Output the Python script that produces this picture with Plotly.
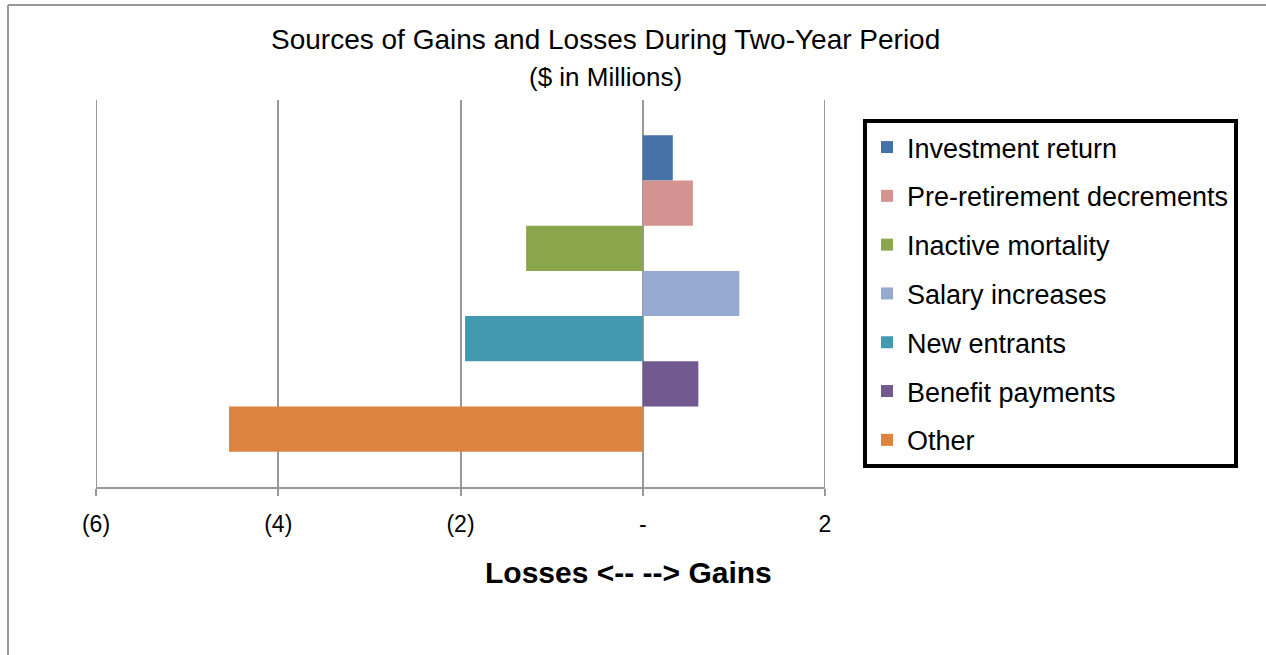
import plotly.graph_objects as go

series = ["Investment return", "Pre-retirement decrements", "Inactive mortality",
          "Salary increases", "New entrants", "Benefit payments", "Other"]
values = [0.33, 0.55, -1.28, 1.06, -1.95, 0.61, -4.54]
colors = ["#4672A8", "#D39391", "#8BA74E", "#95A9D1", "#4299B0", "#71588F", "#DC843F"]
category = ["Sources"]
tick_vals = [-6, -4, -2, 0, 2]
tick_text = ["(6)", "(4)", "(2)", "-", "2"]
x_range = [-6, 2]

FONT = "Liberation Sans"
GRID = "#999999"

fig = go.Figure()
for i, (name, v, c) in enumerate(zip(series, values, colors)):
    fig.add_trace(go.Bar(
        y=category, x=[v], name=name, orientation="h",
        marker=dict(color=c, line=dict(width=0)),
        legendgroup=f"g{i}",
    ))

W, H = 1266, 655
L, R, T, B = 96, 441, 100, 168
pw, ph = W - L - R, H - T - B

def px_x(x):
    return (x - L) / pw

def px_y(y):
    return (H - B - y) / ph

shapes = [
    dict(type="line", xref="paper", yref="paper",
         x0=px_x(8), x1=px_x(1270), y0=px_y(5), y1=px_y(5),
         line=dict(color=GRID, width=2)),
    dict(type="line", xref="paper", yref="paper",
         x0=px_x(8), x1=px_x(8), y0=px_y(5), y1=px_y(660),
         line=dict(color=GRID, width=2)),
]
for xv in x_range:
    shapes.append(dict(type="line", xref="x", yref="paper",
                       x0=xv, x1=xv, y0=0, y1=1,
                       line=dict(color=GRID, width=2), layer="below"))

fig.update_layout(
    width=W, height=H,
    margin=dict(l=L, r=R, t=T, b=B, pad=0),
    paper_bgcolor="white", plot_bgcolor="white",
    barmode="group", bargap=0.182, bargroupgap=0,
    font=dict(family=FONT, color="black"),
    showlegend=True,
    legend=dict(
        x=px_x(863), y=px_y(119), xanchor="left", yanchor="top",
        bordercolor="black", borderwidth=4, bgcolor="white",
        font=dict(family=FONT, size=27, color="black"),
        traceorder="grouped", tracegroupgap=10.7,
        itemwidth=30,
    ),
    xaxis=dict(
        range=x_range, tickvals=tick_vals, ticktext=tick_text,
        showgrid=True, gridcolor=GRID, gridwidth=2,
        zeroline=False, showline=True, linecolor=GRID, linewidth=2,
        ticks="outside", ticklen=7, tickcolor=GRID, tickwidth=2,
        tickfont=dict(family=FONT, size=23, color="black"),
        ticklabelstandoff=8,
    ),
    yaxis=dict(
        autorange="reversed", showticklabels=False, showgrid=False,
        zeroline=False, showline=False, ticks="",
    ),
    annotations=[
        dict(text="Sources of Gains and Losses During Two-Year Period",
             x=px_x(605), y=px_y(39), xref="paper", yref="paper",
             showarrow=False, xanchor="center", yanchor="middle",
             font=dict(family=FONT, size=28, color="black")),
        dict(text="($ in Millions)",
             x=px_x(605), y=px_y(77), xref="paper", yref="paper",
             showarrow=False, xanchor="center", yanchor="middle",
             font=dict(family=FONT, size=26, color="black")),
        dict(text="<b>Losses <-- --> Gains</b>",
             x=px_x(628), y=px_y(572), xref="paper", yref="paper",
             showarrow=False, xanchor="center", yanchor="middle",
             font=dict(family=FONT, size=30, color="black")),
    ],
    shapes=shapes,
)

fig.write_html("out.html", config={"displayModeBar": False},
               post_script="document.body.style.margin='0';document.body.style.overflow='hidden';")
